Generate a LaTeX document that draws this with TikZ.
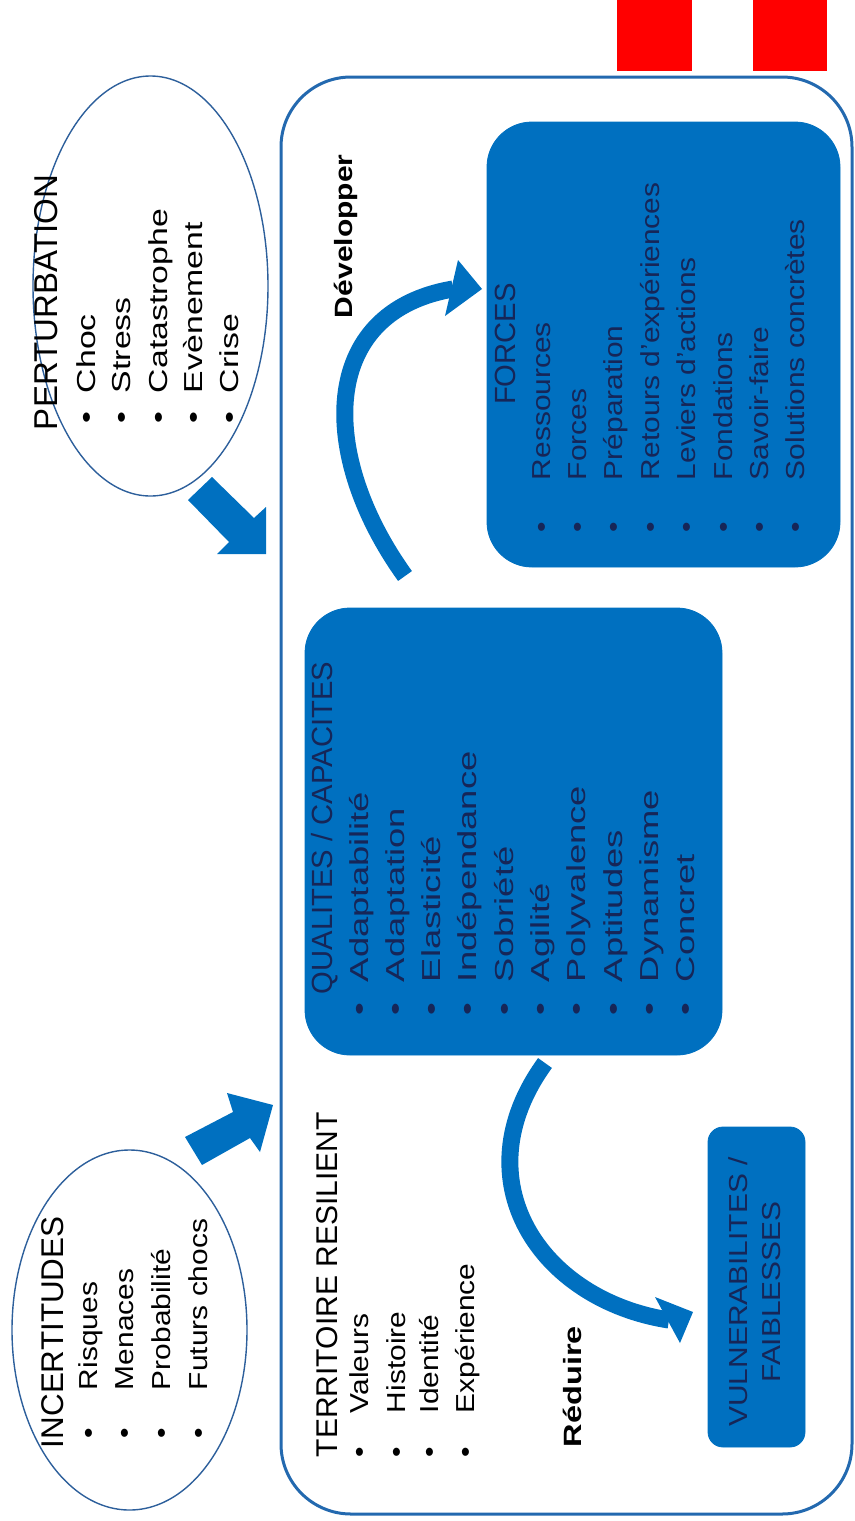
\documentclass[tikz,border=0pt]{standalone}
\usepackage{fontspec}
\setmainfont{Liberation Sans}
\newfontfamily\fA{Liberation Sans}[FakeStretch=1.15]
\newfontfamily\fB{Liberation Sans}[FakeStretch=1.3]
\newfontfamily\fC{Liberation Sans}[FakeStretch=1.4]
\newfontfamily\fD{Liberation Sans}[FakeStretch=1.2]
\newfontfamily\fE{Liberation Sans}[FakeStretch=1.3]
\definecolor{boxblue}{RGB}{0,112,192}
\definecolor{frameblue}{RGB}{35,105,175}
\definecolor{ellblue}{RGB}{45,95,155}
\definecolor{navy}{RGB}{22,38,88}
\definecolor{flagred}{RGB}{255,0,0}
\newcommand{\bul}[2]{\llap{\textbullet\hspace{#1}}#2}
\tikzset{
  lbl/.style={rotate=90, anchor=base west, inner sep=0pt, outer sep=0pt},
  ctr/.style={rotate=90, anchor=base, inner sep=0pt, outer sep=0pt},
  bluebox/.style={fill=boxblue, draw=boxblue, inner sep=0pt},
  ell/.style={draw=ellblue, line width=0.7pt},
  fat/.style={fill=boxblue},
  band/.style={draw=boxblue, line width=8.5pt},
  itA/.style={font=\fA\fontsize{13}{13}\selectfont},
  itB/.style={font=\fB\fontsize{13}{13}\selectfont},
  itC/.style={font=\fC\fontsize{13}{13}\selectfont},
  verbA/.style={font=\fD\bfseries\fontsize{12.5}{12.5}\selectfont},
  verbB/.style={font=\fE\bfseries\fontsize{12.5}{12.5}\selectfont},
}
\begin{document}
\begin{tikzpicture}[x=0.5pt,y=-0.5pt]
\useasboundingbox (0,0) rectangle (855,1521);
% red flag blocks
\fill[flagred] (617,0) rectangle (692,71);
\fill[flagred] (753,0) rectangle (827,71);
% main frame
\node[draw=frameblue, line width=1.5pt, rounded corners=35pt, minimum width=285.5pt, minimum height=718.5pt, inner sep=0pt] (frame) at (566.5,795.5) {};
% boxes
\node[bluebox, rounded corners=22.5pt, minimum width=208.5pt, minimum height=223.5pt] (qual) at (513.5,831.5) {};
\node[bluebox, rounded corners=22.5pt, minimum width=176.5pt, minimum height=222.5pt] (forc) at (663.5,344.5) {};
\node[bluebox, rounded corners=7.5pt, minimum width=48.5pt, minimum height=160pt] (vuln) at (756.5,1287) {};
% ellipses
\coordinate (pert) at (150.5,286);
\draw[ell] (pert) ellipse [x radius=117.5, y radius=210];
\coordinate (inc) at (129.5,1330);
\draw[ell] (inc) ellipse [x radius=117.5, y radius=180];
% fat arrows
\fill[fat] (212,477) -- (254,518) -- (266,507) -- (266,554) -- (217,554) -- (229,542) -- (188,500) -- cycle;
\fill[fat] (185,1137) -- (233,1112) -- (227,1093) -- (273,1105) -- (260,1152) -- (250,1138) -- (202,1165) -- cycle;
% curved arrows
\coordinate (devS) at (405,576);
\coordinate (devE) at (453,289);
\draw[band] (devS) .. controls (318,455) and (318,312) .. (devE);
\fill[boxblue] (458,260) -- (482,289) -- (445,316) -- cycle;
\coordinate (redS) at (545,1063);
\coordinate (redE) at (669,1320);
\draw[band] (redS) .. controls (460,1180) and (540,1300) .. (redE);
\fill[boxblue] (655,1297) -- (693,1312) -- (680,1343) -- cycle;
% PERTURBATION
\node[lbl, font=\fontsize{16.5}{16.5}\selectfont] (pertT) at (57,430) {PERTURBATION};
\foreach \t/\b [count=\i] in {Choc/95,Stress/130.5,Catastrophe/167,Evènement/202,Crise/238}
  \node[lbl, itB] (pert\i) at (\b,393) {\bul{9.5pt}{\t}};
% INCERTITUDES
\node[lbl, font=\fontsize{15.7}{15.7}\selectfont] (incT) at (63,1448) {INCERTITUDES};
\foreach \t/\b [count=\i] in {Risques/97,Menaces/133,Probabilité/170,Futurs chocs/207}
  \node[lbl, itA] (inc\i) at (\b,1390) {\bul{19pt}{\t}};
% TERRITOIRE
\node[lbl, font=\fontsize{15}{15}\selectfont] (terT) at (337,1457) {TERRITOIRE RESILIENT};
\foreach \t/\b [count=\i] in {Valeurs/368,Histoire/405,Identité/438,Expérience/474}
  \node[lbl, itA] (ter\i) at (\b,1413) {\bul{17pt}{\t}};
% QUALITES
\node[ctr, text=navy, font=\fontsize{14.6}{14.6}\selectfont] (qualT) at (332,828) {QUALITES / CAPACITES};
\foreach \t [count=\i] in {Adaptabilité,Adaptation,Elasticité,Indépendance,Sobriété,Agilité,Polyvalence,Aptitudes,Dynamisme,Concret}
  \node[lbl, itC, text=navy] (qual\i) at ({368+36.3*(\i-1)},982) {\bul{10.5pt}{\t}};
% FORCES
\node[ctr, text=navy, font=\fontsize{14.6}{14.6}\selectfont] (forcT) at (515,344) {FORCES};
\foreach \t [count=\i] in {Ressources,Forces,Préparation,Retours d’expériences,Leviers d’actions,Fondations,Savoir-faire,Solutions concrètes}
  \node[lbl, itA, text=navy] (forc\i) at ({550+36.4*(\i-1)},480) {\bul{21pt}{\t}};
% VULNERABILITES
\node[ctr, itA, text=navy] (vulnA) at (747,1292) {VULNERABILITES /};
\node[ctr, itA, text=navy] (vulnB) at (780,1292) {FAIBLESSES};
% verbs
\node[lbl, verbA] (dev) at (352,318) {Développer};
\node[lbl, verbB] (red) at (581,1447) {Réduire};
\end{tikzpicture}
\end{document}
